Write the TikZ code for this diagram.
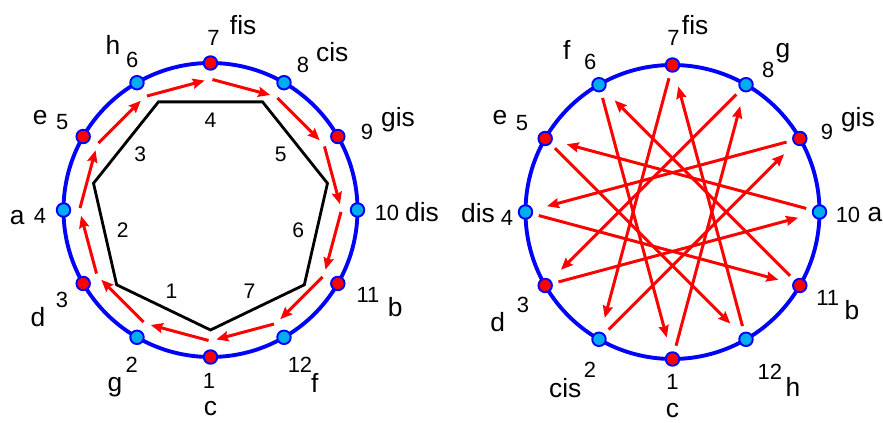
\documentclass[tikz,border=0pt]{standalone}
\usepackage{fontspec}
\setmainfont{Liberation Sans}
\usetikzlibrary{calc,arrows.meta}

\tikzset{
  ring/.style={draw=blue, line width=2.2pt},
  tone/.style={circle, draw=blue, line width=1.1pt, inner sep=0pt, minimum size=0.27cm},
  tnum/.style={font=\fontsize{12.5}{14}\selectfont, inner sep=0pt},
  tname/.style={font=\fontsize{15}{17}\selectfont, inner sep=0pt},
  elab/.style={font=\fontsize{12}{14}\selectfont, inner sep=0pt},
  arrow/.style={->, red, line width=1.7pt, >={Stealth[length=0.24cm, width=0.2cm, inset=0.03cm]}},
  hept/.style={draw=black, line width=1.6pt, line join=miter},
}

\begin{document}
\begin{tikzpicture}
  \useasboundingbox (0,0) rectangle (17.66,8.46);
  \coordinate (L) at (4.21,4.26);
  \coordinate (R) at (13.45,4.22);

  \draw[ring] (L) circle (2.94);
  \draw[ring] (R) circle (2.94);

  % left: steps of the chromatic circle
  \foreach \k in {1,...,12}
    \coordinate (li\k) at ($(L)+({300-30*\k}:2.62)$);
  \foreach \k [evaluate=\k as \n using {int(mod(\k,12)+1)}] in {1,...,12}
    \draw[arrow, shorten <=0.04cm, shorten >=0.12cm] (li\k) -- (li\n);

  % heptagon
  \foreach \j in {0,...,6}
    \coordinate (h\j) at ($(L)+({270-360*\j/7}:2.4)$);
  \draw[hept] (h0) -- (h1) -- (h2) -- (h3) -- (h4) -- (h5) -- (h6) -- cycle;
  \foreach \j in {1,...,7}
    \node[elab] (e\j) at ($(L)+({270-360*(\j-0.5)/7}:1.8)$) {\j};

  % left tones
  \foreach \k/\na/\nr/\t/\ta/\tr in {1/-90.5/3.42/c/-90/3.98, 2/243.1/3.48/g/241.6/4.02,
      3/211.2/3.47/d/211.8/4.06, 4/182/3.41/a/182.1/3.87, 5/149.3/3.45/e/151.6/3.87,
      6/117.6/3.38/h/120.6/3.83, 7/89/3.44/fis/80/3.76, 8/57.5/3.44/cis/52.4/3.99,
      9/26.5/3.50/gis/25.6/4.16, 10/-1/3.53/dis/-0.5/4.23, 11/-28.4/3.58/b/-27.7/4.17,
      12/-60/3.58/f/-58.9/4.04} {
    \ifodd\k \def\fc{red}\else \def\fc{cyan}\fi
    \node[tone, fill=\fc] (l\k) at ($(L)+({300-30*\k}:2.94)$) {};
    \node[tnum] (ln\k) at ($(L)+(\na:\nr)$) {\k};
    \node[tname] (lt\k) at ($(L)+(\ta:\tr)$) {\t};
  }

  % right tones
  \foreach \k/\na/\nr/\t/\ta/\tr in {1/-90/3.40/c/-90/3.97, 2/242.4/3.56/cis/238.6/4.12,
      3/211.9/3.52/d/212.2/4.13, 4/182/3.31/dis/180.3/3.89, 5/149.4/3.50/e/151.4/3.93,
      6/118.8/3.42/f/123.1/3.87, 7/89.7/3.48/fis/83.1/3.77, 8/56/3.42/g/55.2/3.87,
      9/27.4/3.48/gis/26.4/4.14, 10/-1/3.51/a/-0.8/4.05, 11/-29/3.55/b/-28.6/4.09,
      12/-58.6/3.74/h/-55.5/4.25} {
    \ifodd\k \def\fc{red}\else \def\fc{cyan}\fi
    \node[tone, fill=\fc] (r\k) at ($(R)+({300-30*\k}:2.94)$) {};
    \node[tnum] (rn\k) at ($(R)+(\na:\nr)$) {\k};
    \node[tname] (rt\k) at ($(R)+(\ta:\tr)$) {\t};
  }

  % right: steps of fifths
  \foreach \k [evaluate=\k as \n using {int(mod(\k+6,12)+1)}] in {1,...,12}
    \draw[arrow, shorten <=0.12cm, shorten >=0.29cm] (r\k) -- (r\n);
\end{tikzpicture}
\end{document}
